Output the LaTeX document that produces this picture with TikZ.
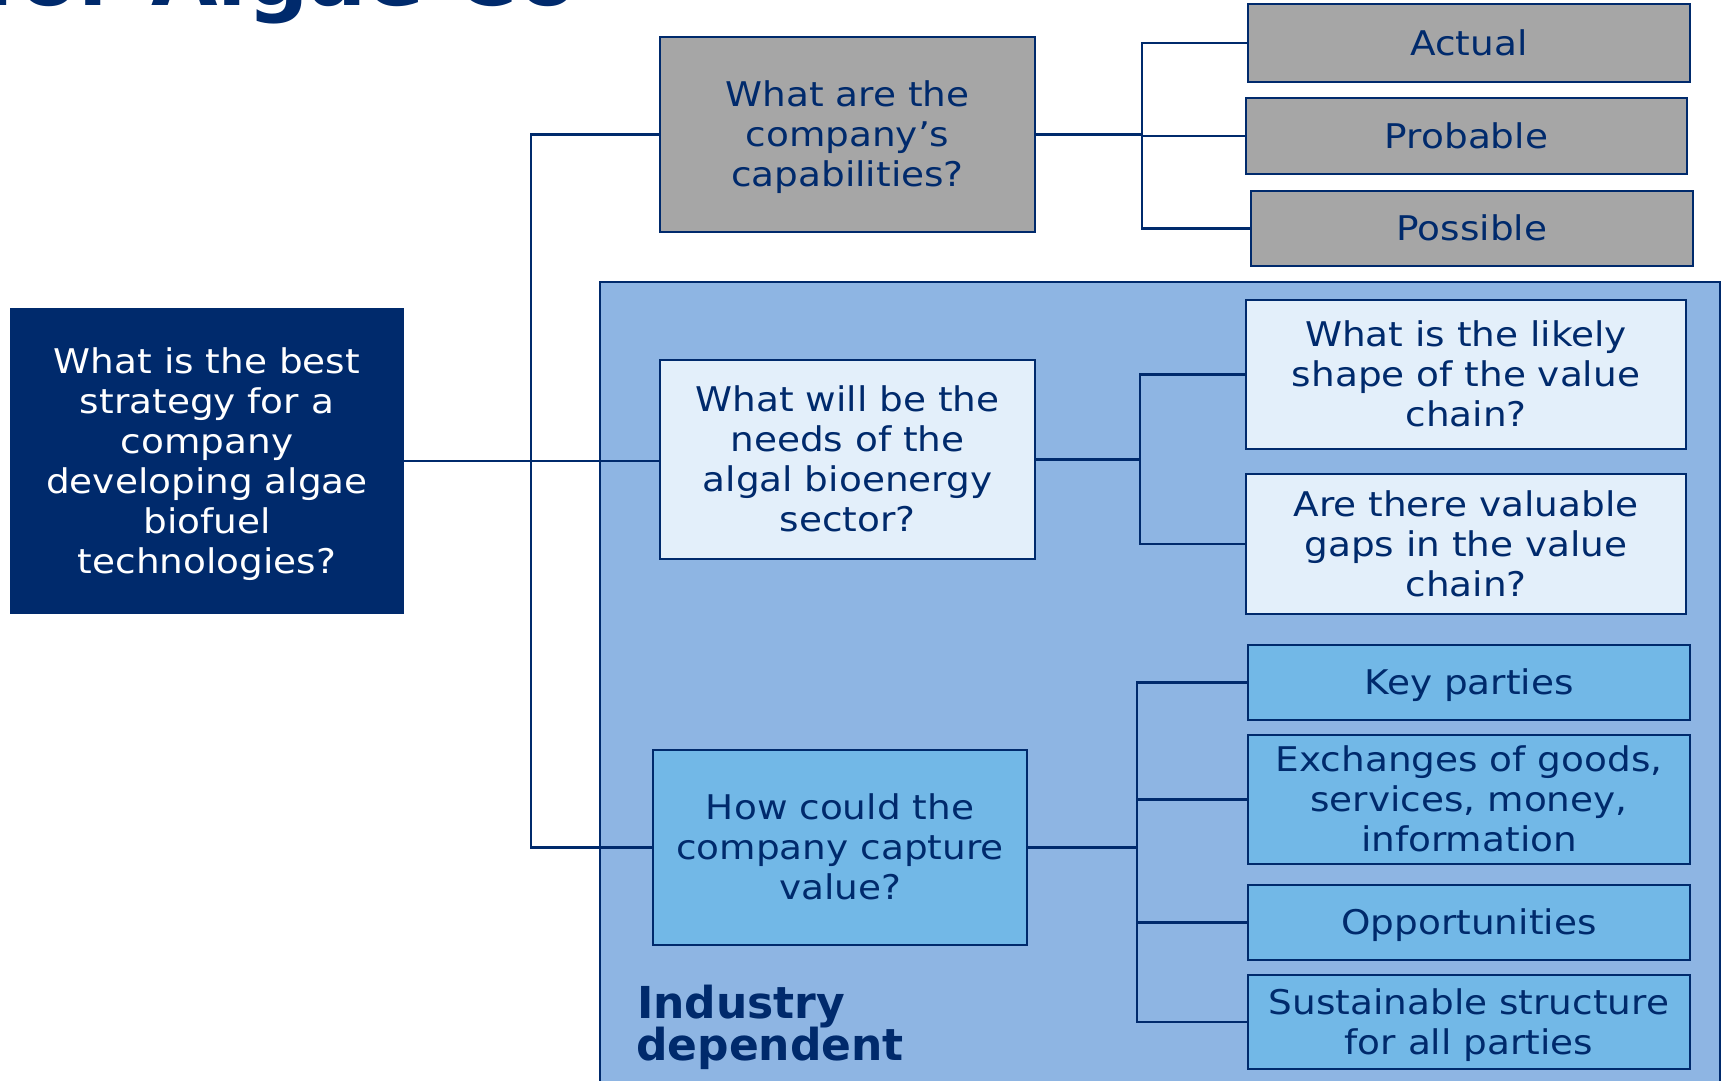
\documentclass[tikz,border=0pt]{standalone}
\usepackage{fontspec}
\setmainfont{DejaVu Sans}[FakeStretch=1.1]
\newfontfamily\plainfont{DejaVu Sans}
\definecolor{navy}{RGB}{0,42,108}
\definecolor{panelblue}{RGB}{142,181,227}
\definecolor{lightbox}{RGB}{227,239,250}
\definecolor{midbox}{RGB}{114,184,231}
\definecolor{graybox}{RGB}{166,166,166}
% box whose text block is centred from the first line's cap top to the last line's baseline
\newcommand\bx[7]{\node[#6, minimum width={#4-#2}, minimum height={#5-#3}] (#1) at ({(#2+#4)/2},{(#3+#5)/2}) {\raisebox{0pt}[\dimexpr\height-3.2pt\relax][0pt]{\begin{tabular}[b]{@{}c@{}}#7\end{tabular}}};}
\begin{document}
\begin{tikzpicture}[x=1pt,y=-1pt,
  box/.style={draw=navy, line width=2.8pt, inner sep=0pt, outer sep=0pt, text=navy, font=\fontsize{34}{40}\selectfont},
  mainbox/.style={box, fill=navy, text=white},
  graybx/.style={box, fill=graybox},
  lightbx/.style={box, fill=lightbox},
  midbx/.style={box, fill=midbox},
  conn/.style={draw=navy, line width=2.4pt},
  bigtext/.style={anchor=base west, inner sep=0pt, text=navy}]
\clip (0,0) rectangle (1722,1081);
\fill[white] (0,0) rectangle (1722,1081);
% title fragment (clipped at the top edge, as in the reference)
\node[bigtext, font=\plainfont\bfseries\fontsize{86}{90}\selectfont] (title) at (-18,6) {for Algae Co};
% panel
\filldraw[fill=panelblue, draw=navy, line width=2.4pt] (600,282) rectangle (1720,1100);
% boxes
\bx{main}{11}{309}{403}{613}{mainbox}{What is the best\\strategy for a\\company\\developing algae\\biofuel\\technologies?}
\bx{cap}{660}{37}{1035}{232}{graybx}{What are the\\company’s\\capabilities?}
\bx{act}{1248}{4}{1690}{82}{graybx}{Actual}
\bx{prob}{1246}{98}{1687}{174}{graybx}{Probable}
\bx{poss}{1251}{191}{1693}{266}{graybx}{Possible}
\bx{needs}{660}{360}{1035}{559}{lightbx}{What will be the\\needs of the\\algal bioenergy\\sector?}
\bx{likely}{1246}{300}{1686}{449}{lightbx}{What is the likely\\shape of the value\\chain?}
\bx{gaps}{1246}{474}{1686}{614}{lightbx}{Are there valuable\\gaps in the value\\chain?}
\bx{capt}{653}{750}{1027}{945}{midbx}{How could the\\company capture\\value?}
\bx{key}{1248}{645}{1690}{720}{midbx}{Key parties}
\bx{exch}{1248}{735}{1690}{864}{midbx}{Exchanges of goods,\\services, money,\\information}
\bx{opp}{1248}{885}{1690}{960}{midbx}{Opportunities}
\bx{sust}{1248}{975}{1690}{1069}{midbx}{Sustainable structure\\for all parties}
\node[bigtext, font=\plainfont\bfseries\fontsize{44}{42}\selectfont] (ind1) at (637,1018) {Industry};
\node[bigtext, font=\plainfont\bfseries\fontsize{44}{42}\selectfont] (ind2) at (636,1060) {dependent};
% connectors
\coordinate (j1) at (531,460);
\coordinate (j2) at (1142,0);
\coordinate (j3) at (1140,0);
\coordinate (j4) at (1137,0);
\draw[conn] (cap.west) -| (j1) |- (capt.west);
\draw[conn] (main.east) -- (main.east -| needs.west);
\draw[conn] (cap.east) -- (cap.east -| j2);
\draw[conn] (act.west) -| (j2 |- poss.west) -- (poss.west);
\draw[conn] (prob.west) -- (prob.west -| j2);
\draw[conn] (needs.east) -- (needs.east -| j3);
\draw[conn] (likely.west) -| (j3 |- gaps.west) -- (gaps.west);
\draw[conn] (capt.east) -- (capt.east -| j4);
\draw[conn] (key.west) -| (j4 |- sust.west) -- (sust.west);
\draw[conn] (exch.west) -- (exch.west -| j4);
\draw[conn] (opp.west) -- (opp.west -| j4);
\end{tikzpicture}
\end{document}
